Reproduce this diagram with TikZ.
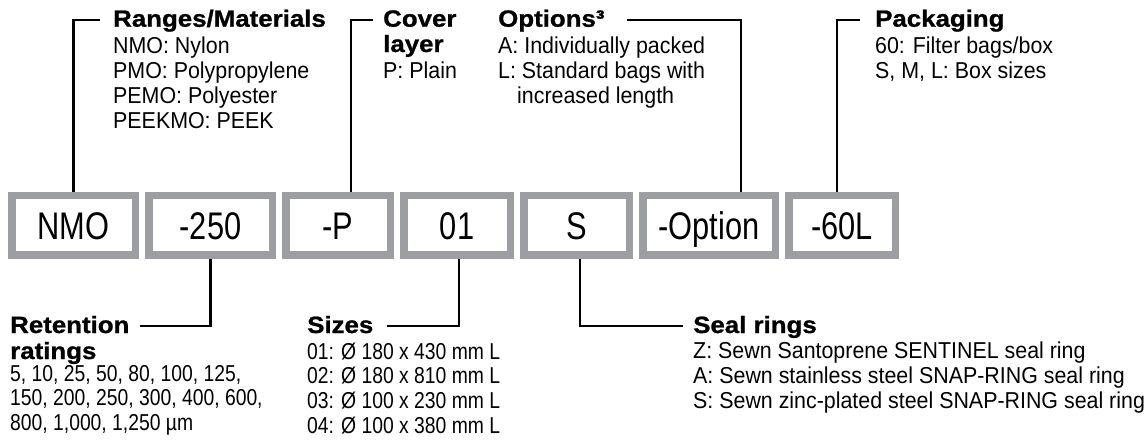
\documentclass[tikz,border=0pt]{standalone}
\usepackage{fontspec}
\setmainfont{Liberation Sans}
\newfontfamily\bodyf[FakeStretch=0.93]{Liberation Sans}
\newfontfamily\numf[FakeStretch=0.84]{Liberation Sans}
\newfontfamily\headf[FakeStretch=1.1,FakeBold=1]{Liberation Sans Bold}
\newfontfamily\boxf[FakeStretch=0.8]{Liberation Sans}
\definecolor{boxgray}{RGB}{157,158,162}
\newcommand{\blk}[2]{\vtop{\baselineskip=#1pt\lineskiplimit=-100pt\lineskip=0pt\halign{##\hfil\cr#2\crcr}}}
\tikzset{
  code/.style={draw=boxgray, line width=7.5pt, fill=white, inner sep=0pt,
    minimum height=59.8pt, font=\boxf\fontsize{38.5}{40}\selectfont,
    text height=27.6pt, text depth=0pt},
  head/.style={anchor=base west, inner sep=0pt, font=\headf\fontsize{23.5}{26}\selectfont},
  body/.style={anchor=base west, inner sep=0pt, font=\bodyf\fontsize{23}{25}\selectfont},
  numbody/.style={anchor=base west, inner sep=0pt, font=\numf\fontsize{23}{25}\selectfont},
  conn/.style={line width=2.6pt, draw=black}
}
\begin{document}
\begin{tikzpicture}[x=1pt,y=-1pt]
\useasboundingbox[fill=white] (0,0) rectangle (1145,439);
% code boxes
\node[code, minimum width=123.5pt] (b1) at (73.5,225.3) {NMO};
\node[code, minimum width=123.5pt] (b2) at (210.5,225.3) {-250};
\node[code, minimum width=104.5pt] (b3) at (338,225.3) {-P};
\node[code, minimum width=106.5pt] (b4) at (457,225.3) {01};
\node[code, minimum width=105.5pt] (b5) at (576.5,225.3) {S};
\node[code, minimum width=132.5pt] (b6) at (709,225.3) {-Option};
\node[code, minimum width=106.5pt] (b7) at (842,225.3) {-60L};
% top labels
\node[head] (rh) at (113,26.7) {Ranges/Materials};
\node[body] (rb) at (113,53.3) {\blk{25}{NMO: Nylon\cr PMO: Polypropylene\cr PEMO: Polyester\cr PEEKMO: PEEK}};
\node[head] (ch) at (383,26.7) {\blk{25.3}{Cover\cr layer}};
\node[body] (cb) at (383,78.3) {P: Plain};
\node[head] (oh) at (498,26.7) {Options³};
\node[body] (ob) at (498,53.3) {\blk{25}{A: Individually packed\cr L: Standard bags with\cr \hspace{19pt}increased length}};
\node[head] (ph) at (875,26.7) {Packaging};
\node[body] (pb) at (875,53.3) {\blk{25}{60: Filter bags/box\cr S, M, L: Box sizes}};
% bottom labels
\node[head] (th) at (10,333) {\blk{26}{Retention\cr ratings}};
\node[numbody] (tb) at (10,381) {\blk{24.5}{5, 10, 25, 50, 80, 100, 125,\cr 150, 200, 250, 300, 400, 600,\cr 800, 1,000, 1,250 µm}};
\node[head] (sh) at (307,333) {Sizes};
\node[numbody] (sb) at (307,359) {\blk{24.7}{01: Ø 180 x 430 mm L\cr 02: Ø 180 x 810 mm L\cr 03: Ø 100 x 230 mm L\cr 04: Ø 100 x 380 mm L}};
\node[head] (eh) at (693,333) {Seal rings};
\node[body] (eb) at (693,358) {\blk{25}{Z: Sewn Santoprene SENTINEL seal ring\cr A: Sewn stainless steel SNAP-RING seal ring\cr S: Sewn zinc-plated steel SNAP-RING seal ring}};
% connector free ends
\coordinate (r1) at (100,20);
\coordinate (c1) at (373,20);
\coordinate (o1) at (627,20);
\coordinate (p1) at (860,20);
\coordinate (t1) at (140,326);
\coordinate (s1) at (387,326);
\coordinate (e1) at (683,326);
% connectors
\draw[conn] (r1) -| (b1.north);
\draw[conn] (c1) -| ([xshift=13pt]b3.north);
\draw[conn] (o1) -| ([xshift=32pt]b6.north);
\draw[conn] (p1) -| ([xshift=-5pt]b7.north);
\draw[conn] (t1) -| (b2.south);
\draw[conn] (s1) -| ([xshift=2pt]b4.south);
\draw[conn] (e1) -| ([xshift=3.5pt]b5.south);
\end{tikzpicture}
\end{document}
